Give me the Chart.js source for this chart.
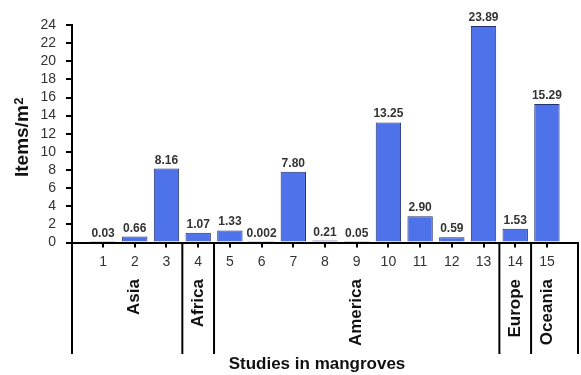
<!DOCTYPE html>
<html>
<head>
<meta charset="utf-8">
<script src="https://cdn.jsdelivr.net/npm/chart.js@4"></script>
<style>
  body { margin: 0; background: #fff; }
  canvas { display: block; }
</style>
</head>
<body>
<canvas id="grafica" width="581" height="375"></canvas>
<script>
// data
const studies = [1, 2, 3, 4, 5, 6, 7, 8, 9, 10, 11, 12, 13, 14, 15];
const itemsPerM2 = [0.03, 0.66, 8.16, 1.07, 1.33, 0.002, 7.80, 0.21, 0.05, 13.25, 2.90, 0.59, 23.89, 1.53, 15.29];
const valueLabels = ['0.03', '0.66', '8.16', '1.07', '1.33', '0.002', '7.80', '0.21', '0.05', '13.25', '2.90', '0.59', '23.89', '1.53', '15.29'];
const regions = ['Asia', 'Africa', 'America', 'Europe', 'Oceania'];
const regionFirst = [1, 4, 5, 14, 15];
const regionLast = [3, 4, 13, 14, 15];
const yTickValues = [0, 2, 4, 6, 8, 10, 12, 14, 16, 18, 20, 22, 24];

const FONT = '"Liberation Sans", Arial, sans-serif';

const extras = {
    id: 'extras',
    afterDatasetsDraw(chart) {
        const ctx = chart.ctx;
        const meta = chart.getDatasetMeta(0);
        ctx.save();
        ctx.fillStyle = '#333';
        ctx.font = 'bold 12px ' + FONT;
        ctx.textAlign = 'center';
        ctx.textBaseline = 'alphabetic';
        meta.data.forEach((bar, i) => {
            ctx.fillText(valueLabels[i], bar.x, bar.y - 5);
        });
        ctx.restore();
    },
    afterDraw(chart) {
        const ctx = chart.ctx;
        const x = chart.scales.x;
        const area = chart.chartArea;
        const lineEnd = 354;
        ctx.save();
        ctx.strokeStyle = '#000';
        ctx.lineWidth = 2;
        // separators between the regions, plus both ends
        let xs = [area.left, area.right];
        regionLast.slice(0, -1).forEach(l => xs.push(x.getPixelForValue(l + 0.5)));
        xs.forEach(px => {
            ctx.beginPath();
            ctx.moveTo(px, area.bottom);
            ctx.lineTo(px, lineEnd);
            ctx.stroke();
        });

        ctx.fillStyle = '#111';
        ctx.font = 'bold 17px ' + FONT;
        regions.forEach((r, i) => {
            const cx = x.getPixelForValue((regionFirst[i] + regionLast[i]) / 2);
            ctx.save();
            ctx.translate(cx, 279);
            ctx.rotate(-Math.PI / 2);
            ctx.textAlign = 'right';
            ctx.textBaseline = 'middle';
            ctx.fillText(r, 0, 0);
            ctx.restore();
        });

        // x title
        ctx.textAlign = 'center';
        ctx.textBaseline = 'alphabetic';
        ctx.fillText('Studies in mangroves', 317, 369);

        // y title, m2 with superscript
        ctx.save();
        ctx.translate(21.5, 137.5);
        ctx.rotate(-Math.PI / 2);
        ctx.font = 'bold 19px ' + FONT;
        const wMain = ctx.measureText('Items/m').width;
        ctx.font = 'bold 13px ' + FONT;
        const wSup = ctx.measureText('2').width;
        const start = -(wMain + wSup) / 2;
        ctx.textAlign = 'left';
        ctx.font = 'bold 19px ' + FONT;
        ctx.fillText('Items/m', start, 6.5);
        ctx.font = 'bold 13px ' + FONT;
        ctx.fillText('2', start + wMain + 0.5, 1);
        ctx.restore();

        ctx.restore();
    }
};

function main() {
    const ctx = document.getElementById('grafica').getContext('2d');
    const config = {
        type: 'bar',
        data: {
            datasets: [{
                data: studies.map((s, i) => ({ x: s, y: itemsPerM2[i] })),
                backgroundColor: 'rgb(78, 114, 233)',
                borderColor: 'rgb(35, 50, 110)',
                borderWidth: 1,
                barPercentage: 0.8,
                categoryPercentage: 1
            }]
        },
        options: {
            responsive: false,
            animation: false,
            devicePixelRatio: 1,
            layout: { padding: { top: 25, right: 3, left: 0, bottom: 0 } },
            plugins: {
                legend: { display: false },
                tooltip: { enabled: false }
            },
            scales: {
                x: {
                    type: 'linear',
                    offset: false,
                    min: 0.02,
                    max: 15.98,
                    afterBuildTicks: (s) => { s.ticks = studies.map(v => ({ value: v })); },
                    afterFit: (s) => { s.height = 132.5; },
                    grid: { offset: false, drawOnChartArea: false, drawTicks: true, tickLength: 5, color: '#000', lineWidth: 2 },
                    border: { color: '#000', width: 2 },
                    ticks: { color: '#333', font: { family: FONT, size: 14 }, padding: 6, maxRotation: 0, autoSkip: false }
                },
                y: {
                    min: 0,
                    max: 24,
                    afterBuildTicks: (s) => { s.ticks = yTickValues.map(v => ({ value: v })); },
                    afterFit: (s) => { s.width = 72; },
                    grid: { drawOnChartArea: false, drawTicks: true, tickLength: 6, color: '#000', lineWidth: 2 },
                    border: { color: '#000', width: 2 },
                    ticks: { color: '#333', font: { family: FONT, size: 14 }, padding: 10, autoSkip: false }
                }
            }
        },
        plugins: [extras]
    };
    new Chart(ctx, config);
}

document.addEventListener('DOMContentLoaded', function() {
    main();
});
</script>
</body>
</html>
